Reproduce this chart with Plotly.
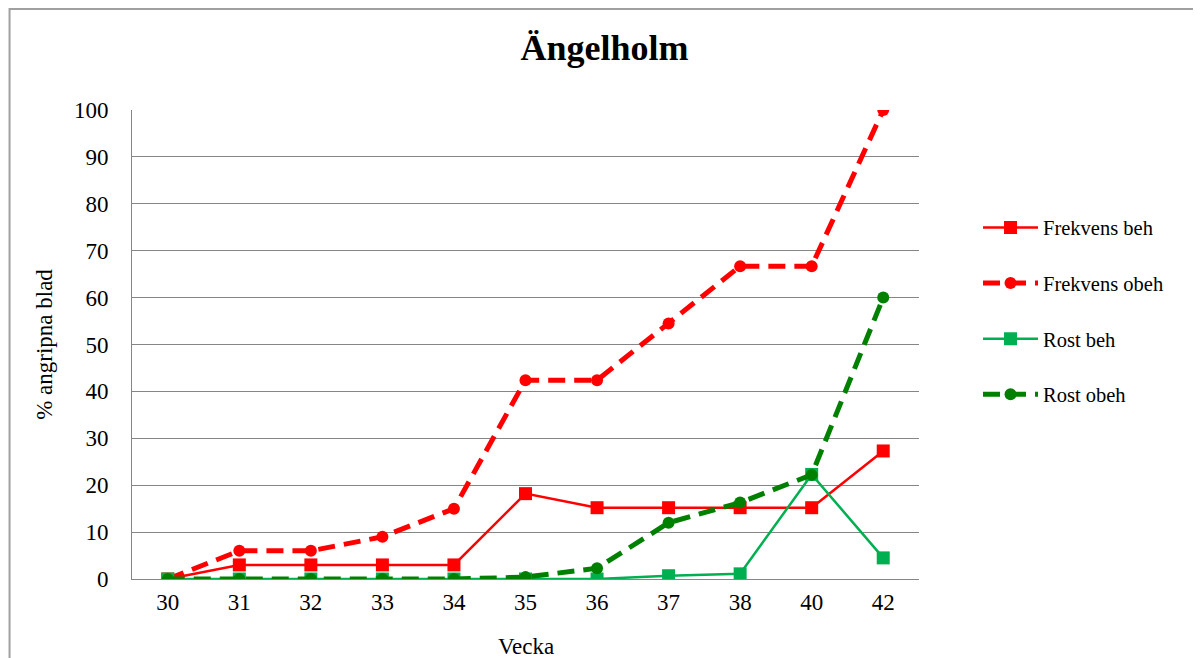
import plotly.graph_objects as go

# veckor och andel angripna blad (%)
weeks = ["30", "31", "32", "33", "34", "35", "36", "37", "38", "40", "42"]
frekvens_beh = [0, 3, 3, 3, 3, 18.2, 15.2, 15.2, 15.2, 15.2, 27.3]
frekvens_obeh = [0, 6, 6, 9, 15, 42.4, 42.4, 54.5, 66.7, 66.7, 100]
rost_beh = [0, 0, 0, 0, 0, 0, 0, 0.7, 1.1, 22.3, 4.5]
rost_obeh = [0, 0, 0, 0, 0, 0.4, 2.3, 12, 16.3, 22.2, 60]

DASH = "17px,9px"

fig = go.Figure()

fig.add_trace(go.Scatter(x=weeks, y=frekvens_beh, name="Frekvens beh", mode="lines+markers",
                         line=dict(color="#FF0000", width=2.5),
                         marker=dict(symbol="square", size=13, color="#FF0000"),
                         legendgroup="a"))
fig.add_trace(go.Scatter(x=weeks, y=frekvens_obeh, name="Frekvens obeh", mode="lines+markers",
                         line=dict(color="#FF0000", width=5, dash=DASH),
                         marker=dict(symbol="circle", size=12, color="#FF0000"),
                         legendgroup="b"))
fig.add_trace(go.Scatter(x=weeks, y=rost_beh, name="Rost beh", mode="lines+markers",
                         line=dict(color="#00B050", width=2.5),
                         marker=dict(symbol="square", size=13, color="#00B050"),
                         legendgroup="c"))
fig.add_trace(go.Scatter(x=weeks, y=rost_obeh, name="Rost obeh", mode="lines+markers",
                         line=dict(color="#008000", width=5, dash=DASH),
                         marker=dict(symbol="circle", size=12, color="#008000"),
                         legendgroup="d"))

# yttre ram (bara vänster och övre kant syns)
fig.add_shape(type="rect", xref="paper", yref="paper",
              x0=-0.1556, x1=1.45, y0=-0.3, y1=1.2154,
              line=dict(color="#A0A0A0", width=2), layer="below")

# x-axelns titel som annotation, så den hamnar längre ner
fig.add_annotation(text="Vecka", xref="paper", yref="paper", x=0.5, y=-0.143,
                   xanchor="center", yanchor="middle", showarrow=False,
                   font=dict(size=23, color="black"))

# sidan har 8px marginal i body, därför lite mindre figur
fig.update_layout(
    width=1193, height=650,
    margin=dict(l=124, r=282, t=102, b=79),
    paper_bgcolor="white", plot_bgcolor="white",
    font=dict(family="Liberation Serif", color="black"),
    title=dict(text="<b>Ängelholm</b>", x=0.5, xref="container", xanchor="center",
               y=0.94, yanchor="middle", font=dict(size=36, color="black")),
    xaxis=dict(type="category", range=[-0.5, 10.5], showgrid=False,
               showline=True, linecolor="#868686", linewidth=1,
               ticks="", tickfont=dict(size=23), ticklabelstandoff=2),
    yaxis=dict(range=[0, 100], dtick=10, showgrid=True, gridcolor="#868686", gridwidth=1,
               showline=True, linecolor="#868686", linewidth=1, zeroline=False,
               ticks="", tickfont=dict(size=23), ticklabelstandoff=18,
               title=dict(text="% angripna blad", font=dict(size=23), standoff=14)),
    legend=dict(x=1.075, xanchor="left", y=0.792, yanchor="top",
                font=dict(size=20.5), traceorder="grouped", tracegroupgap=26,
                itemwidth=55, bgcolor="rgba(0,0,0,0)"),
)

fig.write_html("out.html")
